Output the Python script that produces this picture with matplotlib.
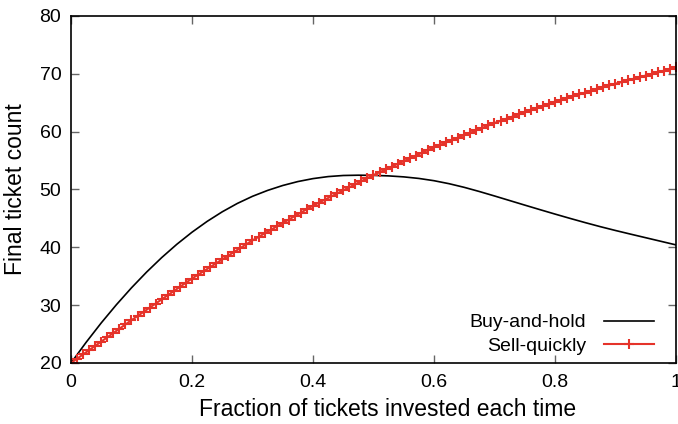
import numpy as np
import matplotlib.pyplot as plt

plt.rcParams['font.family'] = ['Liberation Sans', 'DejaVu Sans']

# buy-and-hold: final ticket count sampled every 0.025
hold_frac = np.linspace(0, 1, 41)
hold_count = [20.00, 23.57, 26.93, 30.07, 33.00, 35.72, 38.23, 40.53, 42.61, 44.48,
              46.14, 47.59, 48.82, 49.84, 50.69, 51.37, 51.88, 52.23, 52.42, 52.47,
              52.44, 52.35, 52.18, 51.91, 51.52, 51.00, 50.37, 49.65, 48.88, 48.09,
              47.30, 46.52, 45.75, 45.00, 44.27, 43.57, 42.91, 42.28, 41.66, 41.04,
              40.42]

# sell-quickly: final ticket count sampled every 0.01
sell_frac = np.linspace(0, 1, 101)
sell_count = [20.00, 20.74, 21.48, 22.22, 22.96, 23.70, 24.44, 25.18, 25.92, 26.66,
              27.40, 28.12, 28.84, 29.56, 30.28, 31.00, 31.72, 32.44, 33.16, 33.88,
              34.60, 35.26, 35.92, 36.58, 37.24, 37.90, 38.56, 39.22, 39.88, 40.54,
              41.20, 41.80, 42.40, 43.00, 43.60, 44.20, 44.80, 45.40, 46.00, 46.60,
              47.20, 47.73, 48.26, 48.79, 49.32, 49.85, 50.38, 50.91, 51.44, 51.97,
              52.50, 52.98, 53.46, 53.94, 54.42, 54.90, 55.38, 55.86, 56.34, 56.82,
              57.30, 57.72, 58.14, 58.56, 58.98, 59.40, 59.82, 60.24, 60.66, 61.08,
              61.50, 61.87, 62.24, 62.61, 62.98, 63.35, 63.72, 64.09, 64.46, 64.83,
              65.20, 65.51, 65.82, 66.13, 66.44, 66.75, 67.06, 67.37, 67.68, 67.99,
              68.30, 68.58, 68.86, 69.14, 69.42, 69.70, 69.98, 70.26, 70.54, 70.82,
              71.10]

x_ticks = [0, 0.2, 0.4, 0.6, 0.8, 1]
x_tick_labels = ["0", "0.2", "0.4", "0.6", "0.8", "1"]
y_ticks = [20, 30, 40, 50, 60, 70, 80]

fig = plt.figure(figsize=(6.78, 4.24), dpi=100)
ax = fig.add_axes([0.1047, 0.1439, 0.8923, 0.8184])

ax.plot(hold_frac, hold_count, color="black", lw=1.2, label="Buy-and-hold")
ax.plot(sell_frac, sell_count, color="#e5332a", lw=1.5, marker="+",
        markersize=6.5, markeredgewidth=1.5, label="Sell-quickly")

ax.set_xlim(0, 1)
ax.set_ylim(20, 80)
ax.set_xticks(x_ticks)
ax.set_xticklabels(x_tick_labels)
ax.set_yticks(y_ticks)
ax.tick_params(direction="in", length=6, width=1, color="#666666",
               top=True, right=True, labelsize=14, pad=7)
ax.tick_params(axis="x", pad=8)
for s in ax.spines.values():
    s.set_linewidth(1.2)

ax.set_xlabel("Fraction of tickets invested each time", fontsize=16.5, labelpad=7)
ax.xaxis.set_label_coords(0.524, -0.1)
ax.xaxis.label.set_va("top")
ax.set_ylabel("Final ticket count", fontsize=16.5, labelpad=9)

ax.legend(loc="lower right", frameon=False, markerfirst=False, fontsize=14,
          handlelength=2.6, handletextpad=0.9, labelspacing=0.3,
          borderpad=0.4, bbox_to_anchor=(0.993, -0.027))

fig.savefig("out.png", dpi=100)
